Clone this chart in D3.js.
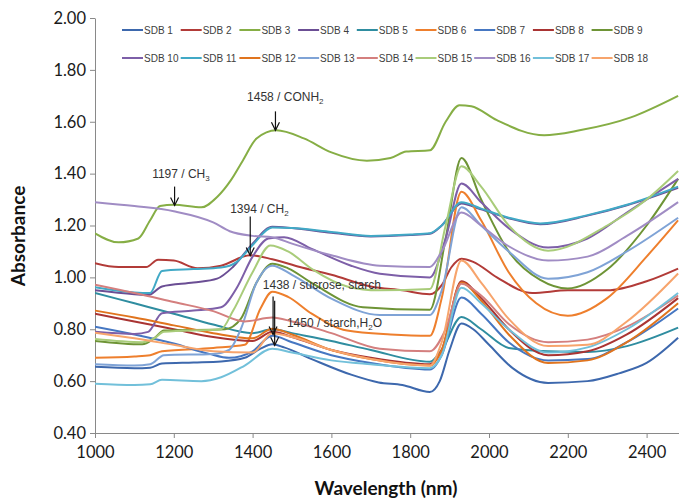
<!DOCTYPE html>
<html><head><meta charset="utf-8">
<script src="https://cdn.jsdelivr.net/npm/d3@7"></script>
<style>body{margin:0;background:#fff} svg{display:block}</style>
</head><body>
<svg id="chart" width="679" height="501"></svg>
<script>
// ---- data ----
const seriesNames = ["SDB 1","SDB 2","SDB 3","SDB 4","SDB 5","SDB 6","SDB 7","SDB 8","SDB 9",
  "SDB 10","SDB 11","SDB 12","SDB 13","SDB 14","SDB 15","SDB 16","SDB 17","SDB 18"];
const seriesColors = ["#3D68AD","#B23B38","#86AE45","#6B4E94","#2F8DA0","#EE7F2D","#4677C2","#A93433","#6E9436",
  "#7D5FA8","#41A9C6","#E0741E","#7FA3D6","#D47F7E","#A9CC7A","#A08CC4","#72C0DA","#F7A46C"];
const xTicks = [1000,1200,1400,1600,1800,2000,2200,2400];
const yTicks = [0.4,0.6,0.8,1.0,1.2,1.4,1.6,1.8,2.0];

const SDB1 = [[1000,0.655],[1100,0.65],[1140,0.652],[1170,0.668],[1250,0.672],[1320,0.676],[1380,0.69],[1420,0.725],[1450,0.742],[1480,0.73],[1550,0.685],[1650,0.625],[1720,0.595],[1780,0.585],[1850,0.558],[1875,0.6],[1900,0.72],[1930,0.822],[1960,0.8],[2000,0.74],[2060,0.65],[2150,0.593],[2250,0.6],[2330,0.63],[2400,0.67],[2480,0.767]];
const SDB2 = [[1000,1.055],[1060,1.04],[1130,1.04],[1160,1.068],[1200,1.065],[1260,1.035],[1320,1.045],[1394,1.085],[1450,1.07],[1520,1.04],[1600,1.01],[1700,0.965],[1780,0.95],[1850,0.935],[1880,0.97],[1905,1.04],[1930,1.072],[1960,1.06],[2020,1.0],[2110,0.94],[2200,0.95],[2300,0.95],[2400,0.985],[2480,1.034]];
const SDB3 = [[1000,1.17],[1060,1.135],[1110,1.15],[1140,1.22],[1165,1.275],[1200,1.28],[1270,1.27],[1310,1.31],[1345,1.375],[1375,1.45],[1410,1.535],[1460,1.567],[1530,1.536],[1600,1.482],[1690,1.45],[1750,1.46],[1790,1.485],[1850,1.49],[1890,1.6],[1925,1.664],[1955,1.66],[2020,1.606],[2140,1.548],[2230,1.567],[2360,1.617],[2480,1.70]];
const SDB4 = [[1000,0.95],[1100,0.935],[1135,0.932],[1170,0.965],[1250,0.98],[1310,0.995],[1350,1.04],[1400,1.13],[1450,1.195],[1500,1.19],[1600,1.172],[1700,1.158],[1800,1.163],[1850,1.168],[1880,1.2],[1930,1.285],[1980,1.262],[2050,1.228],[2130,1.205],[2250,1.238],[2350,1.278],[2480,1.345]];
const SDB5 = [[1000,0.94],[1100,0.9],[1200,0.86],[1300,0.818],[1400,0.785],[1450,0.8],[1500,0.785],[1600,0.755],[1700,0.72],[1850,0.675],[1880,0.72],[1930,0.847],[1980,0.8],[2050,0.728],[2150,0.715],[2250,0.712],[2350,0.735],[2480,0.806]];
const SDB6 = [[1000,0.69],[1100,0.695],[1140,0.7],[1170,0.715],[1300,0.728],[1380,0.74],[1420,0.88],[1450,0.945],[1490,0.925],[1550,0.86],[1640,0.795],[1750,0.78],[1850,0.775],[1880,0.92],[1930,1.33],[1980,1.22],[2050,1.02],[2120,0.9],[2200,0.852],[2300,0.92],[2400,1.08],[2480,1.22]];
const SDB7 = [[1000,0.81],[1100,0.78],[1200,0.745],[1290,0.705],[1340,0.69],[1400,0.715],[1450,0.775],[1500,0.75],[1600,0.7],[1700,0.67],[1850,0.645],[1880,0.7],[1930,0.922],[1980,0.86],[2050,0.75],[2150,0.68],[2250,0.685],[2350,0.75],[2480,0.88]];
const SDB8 = [[1000,0.86],[1100,0.83],[1200,0.8],[1300,0.77],[1400,0.755],[1450,0.79],[1500,0.77],[1600,0.72],[1700,0.69],[1850,0.665],[1880,0.72],[1930,0.985],[1980,0.92],[2050,0.8],[2150,0.7],[2250,0.715],[2350,0.78],[2480,0.92]];
const SDB9 = [[1000,0.755],[1120,0.742],[1150,0.765],[1175,0.795],[1330,0.8],[1370,0.84],[1410,0.98],[1450,1.053],[1490,1.035],[1553,0.976],[1680,0.885],[1850,0.875],[1890,1.15],[1930,1.46],[1980,1.3],[2050,1.1],[2130,0.99],[2200,0.957],[2300,1.03],[2400,1.2],[2480,1.38]];
const SDB10 = [[1000,0.79],[1100,0.782],[1135,0.79],[1170,0.862],[1250,0.872],[1320,0.885],[1360,0.96],[1400,1.08],[1440,1.15],[1480,1.155],[1550,1.11],[1650,1.045],[1723,1.014],[1850,1.0],[1890,1.15],[1930,1.362],[1980,1.29],[2050,1.19],[2150,1.115],[2250,1.15],[2350,1.25],[2480,1.38]];
const SDB11 = [[1000,0.962],[1100,0.942],[1140,0.94],[1170,1.025],[1250,1.032],[1320,1.038],[1360,1.06],[1400,1.125],[1450,1.192],[1500,1.19],[1600,1.175],[1700,1.16],[1800,1.165],[1850,1.17],[1880,1.2],[1930,1.29],[1980,1.265],[2050,1.23],[2130,1.208],[2250,1.24],[2350,1.28],[2480,1.35]];
const SDB12 = [[1000,0.872],[1100,0.845],[1200,0.815],[1300,0.785],[1400,0.765],[1450,0.802],[1500,0.78],[1600,0.72],[1700,0.685],[1850,0.66],[1880,0.72],[1930,0.98],[1980,0.91],[2050,0.78],[2150,0.67],[2250,0.68],[2350,0.75],[2480,0.9]];
const SDB13 = [[1000,0.665],[1100,0.66],[1140,0.665],[1175,0.7],[1300,0.705],[1340,0.72],[1370,0.8],[1410,0.98],[1450,1.045],[1500,1.01],[1600,0.918],[1723,0.855],[1850,0.855],[1880,0.95],[1930,1.27],[1980,1.2],[2050,1.1],[2150,0.995],[2250,1.02],[2350,1.1],[2480,1.23]];
const SDB14 = [[1000,0.972],[1100,0.94],[1200,0.905],[1300,0.87],[1380,0.83],[1450,0.845],[1500,0.83],[1600,0.785],[1723,0.725],[1850,0.715],[1890,0.8],[1930,0.975],[1980,0.93],[2050,0.82],[2150,0.75],[2250,0.76],[2350,0.81],[2480,0.93]];
const SDB15 = [[1000,0.762],[1120,0.75],[1150,0.765],[1175,0.79],[1320,0.8],[1350,0.87],[1400,1.02],[1445,1.123],[1490,1.1],[1553,1.03],[1640,0.965],[1720,0.95],[1850,0.955],[1890,1.2],[1930,1.428],[1980,1.35],[2050,1.2],[2150,1.103],[2300,1.2],[2400,1.3],[2480,1.41]];
const SDB16 = [[1000,1.29],[1100,1.275],[1200,1.255],[1300,1.212],[1342,1.178],[1400,1.16],[1450,1.155],[1500,1.13],[1600,1.085],[1723,1.045],[1850,1.04],[1880,1.1],[1930,1.25],[1980,1.2],[2050,1.12],[2150,1.065],[2250,1.08],[2350,1.16],[2480,1.29]];
const SDB17 = [[1000,0.59],[1100,0.585],[1140,0.588],[1170,0.605],[1270,0.6],[1320,0.615],[1380,0.66],[1450,0.725],[1500,0.71],[1600,0.68],[1700,0.665],[1850,0.65],[1880,0.7],[1930,0.96],[1980,0.9],[2050,0.8],[2150,0.71],[2250,0.73],[2350,0.8],[2480,0.94]];
const SDB18 = [[1000,0.787],[1100,0.765],[1200,0.74],[1300,0.715],[1400,0.71],[1450,0.785],[1500,0.77],[1600,0.72],[1700,0.685],[1850,0.66],[1880,0.75],[1930,1.065],[1980,0.98],[2050,0.84],[2150,0.735],[2250,0.74],[2350,0.83],[2480,1.015]];
const seriesData = [SDB1,SDB2,SDB3,SDB4,SDB5,SDB6,SDB7,SDB8,SDB9,SDB10,SDB11,SDB12,SDB13,SDB14,SDB15,SDB16,SDB17,SDB18];

// annotations: label parts, arrow wavelength, arrow from/to absorbance, label anchor
const annotations = [
  {parts:[["1458 / CONH",0],["2",1]], nm:1458, from:1.64, to:1.567, tnm:1386, tval:1.679},
  {parts:[["1197 / CH",0],["3",1]], nm:1202, from:1.35, to:1.277, tnm:1145, tval:1.382},
  {parts:[["1394 / CH",0],["2",1]], nm:1394, from:1.235, to:1.084, tnm:1343, tval:1.25},
  {parts:[["1438 / sucrose, starch",0]], nm:1452, from:0.926, to:0.78, tnm:1426, tval:0.957},
  {parts:[["1450 / starch,H",0],["2",1],["O",-1]], nm:1456, from:0.91, to:0.738, tnm:1487, tval:0.81}
];

// ---- chart ----
const svg = d3.select("#chart");
const x = d3.scaleLinear().domain([1000,2500]).range([95,686]);
const y = d3.scaleLinear().domain([0.4,2.0]).range([433,18]);

svg.append("defs").append("clipPath").attr("id","clip")
  .append("rect").attr("x",95).attr("y",10).attr("width",600).attr("height",423);

const axisColor = "#898989";
const gy = svg.append("g").attr("transform","translate(95,0)")
  .call(d3.axisLeft(y).tickValues(yTicks).tickFormat(d3.format(".2f")).tickSize(5).tickPadding(4).tickSizeOuter(0));
const gx = svg.append("g").attr("transform","translate(0,433)")
  .call(d3.axisBottom(x).tickValues(xTicks).tickFormat(d3.format("d")).tickSize(5).tickPadding(8).tickSizeOuter(0));
[gx,gy].forEach(g=>{
  g.select(".domain").attr("stroke",axisColor);
  g.selectAll(".tick line").attr("stroke",axisColor);
  g.selectAll(".tick text").attr("fill","#1a1a1a").attr("font-family","Lato, 'Open Sans', sans-serif").attr("font-size",16.5);
});

const line = d3.line().x(d=>x(d[0])).y(d=>y(d[1])).curve(d3.curveMonotoneX);
const plot = svg.append("g").attr("clip-path","url(#clip)");
seriesData.forEach((s,i)=>{
  plot.append("path").datum(s).attr("d",line)
    .attr("fill","none").attr("stroke",seriesColors[i]).attr("stroke-width",2)
    .attr("stroke-linejoin","round");
});

// legend
const leg = svg.append("g");
seriesNames.forEach((n,i)=>{
  const col = i%9, row = Math.floor(i/9);
  const lx = 122 + col*58.7, ly = 30 + row*28;
  leg.append("line").attr("x1",lx).attr("x2",lx+21).attr("y1",ly).attr("y2",ly)
    .attr("stroke",seriesColors[i]).attr("stroke-width",2);
  leg.append("text").attr("x",lx+22).attr("y",ly).attr("dy","0.35em")
    .attr("font-family","'Liberation Sans', Arial, sans-serif").attr("font-size",10).attr("fill","#404040").text(n);
});

// annotations
const ann = svg.append("g");
annotations.forEach(a=>{
  const t = ann.append("text").attr("x",x(a.tnm)).attr("y",y(a.tval))
    .attr("font-family","'Liberation Sans', Arial, sans-serif").attr("font-size",12).attr("fill","#333");
  a.parts.forEach(p=>{
    const ts = t.append("tspan").text(p[0]);
    if(p[1]===1) ts.attr("dy",3).attr("font-size",8);
    if(p[1]===-1) ts.attr("dy",-3);
  });
  const ax = x(a.nm), y1 = y(a.from), y2 = y(a.to);
  ann.append("line").attr("x1",ax).attr("x2",ax).attr("y1",y1).attr("y2",y2).attr("stroke","#111").attr("stroke-width",1.2);
  ann.append("path").attr("d",`M${ax-4},${y2-8}L${ax},${y2}L${ax+4},${y2-8}`)
    .attr("fill","none").attr("stroke","#111").attr("stroke-width",1.2);
});

// axis titles
svg.append("text").attr("x",386).attr("y",495).attr("text-anchor","middle")
  .attr("font-family","Lato, 'Open Sans', sans-serif").attr("font-weight","bold").attr("font-size",19).attr("fill","#111")
  .text("Wavelength (nm)");
svg.append("text").attr("transform","translate(25,236) rotate(-90)").attr("text-anchor","middle")
  .attr("font-family","Lato, 'Open Sans', sans-serif").attr("font-weight","bold").attr("font-size",19).attr("fill","#111")
  .text("Absorbance");
</script>
</body></html>
